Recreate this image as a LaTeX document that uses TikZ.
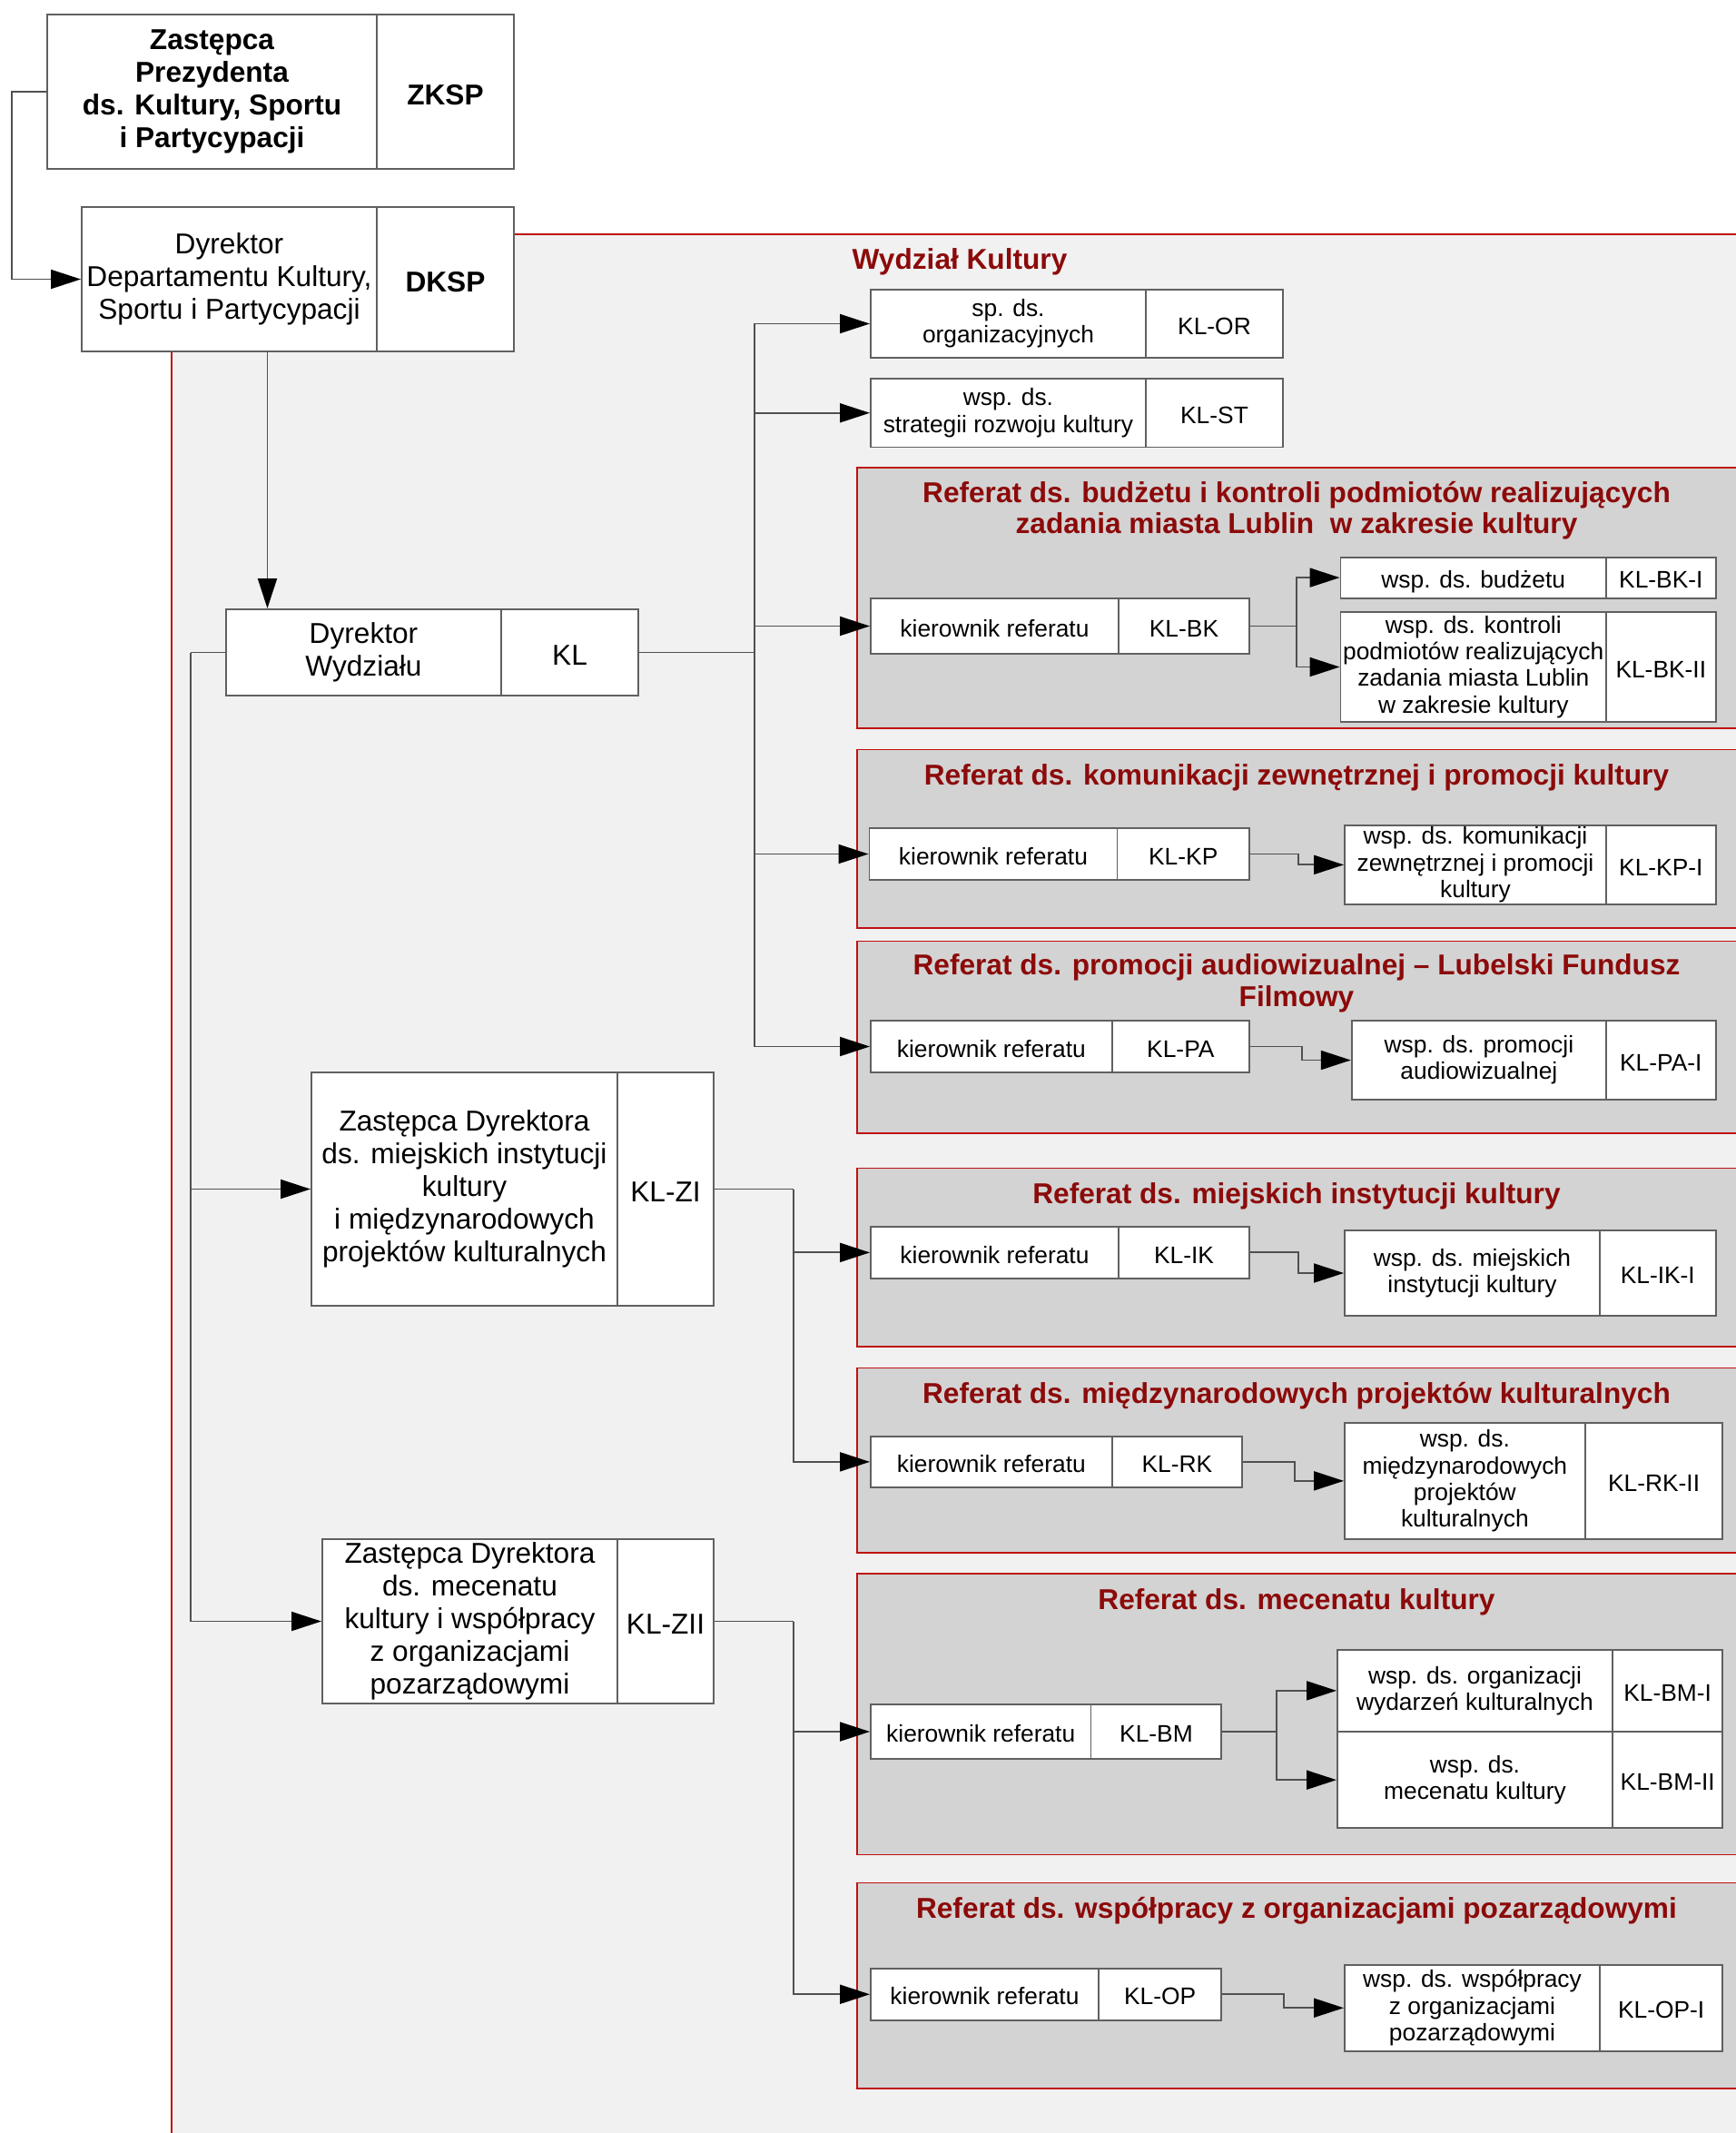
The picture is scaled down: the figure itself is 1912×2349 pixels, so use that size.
\documentclass[tikz,border=0pt]{standalone}
\usepackage{fontspec}
\setmainfont{Liberation Sans}
\usetikzlibrary{arrows.meta, calc}
\definecolor{linegray}{HTML}{505050}
\definecolor{boxgray}{HTML}{606060}
\definecolor{outerfill}{HTML}{F1F1F1}
\definecolor{innerfill}{HTML}{D3D3D3}
\definecolor{framered}{HTML}{C01010}
\definecolor{titlered}{HTML}{8C0A0A}
\newcommand{\linestrut}{\rule[-0.212em]{0pt}{1.117em}}
\newcommand{\topstrut}{\rule{0pt}{1.1em}}
\tikzset{
  cell/.style={draw=boxgray, fill=white, line width=0.55pt, inner sep=0pt, align=center,
    execute at begin node=\topstrut, execute at end node=\linestrut},
  bigcell/.style={cell, font=\fontsize{9}{10.2}\selectfont},
  boldcell/.style={cell, font=\fontsize{9}{10.2}\selectfont\bfseries},
  smallcell/.style={cell, font=\fontsize{7.5}{8.3}\selectfont},
  link/.style={draw=linegray, line width=0.55pt},
  arr/.style={link, -{Triangle[length=3.3mm,width=2.1mm,color=black]}},
  refbox/.style={fill=innerfill, draw=framered, line width=0.4pt},
  reftitle/.style={text=titlered, inner sep=0pt, font=\fontsize{9}{9.8}\selectfont\bfseries, align=center,
    execute at begin node=\linestrut, execute at end node=\linestrut}
}
% style, name, x1, y1, x of divider, x2, y2, text, code
\newcommand{\cell}[9]{%
  \node[#1, minimum width={(#5-#3)*0.1mm}, minimum height={(#7-#4)*0.1mm}] (#2) at ({(#3+#5)/2},{(#4+#7)/2}) {#8};
  \node[#1, minimum width={(#6-#5)*0.1mm}, minimum height={(#7-#4)*0.1mm}] (#2c) at ({(#5+#6)/2},{(#4+#7)/2}) {#9};}

\begin{document}
\begin{tikzpicture}[x=0.1mm, y=-0.1mm]
\useasboundingbox (0,0) rectangle (1912,2349);
\fill[white] (0,0) rectangle (1912,2349);

\draw[fill=outerfill, draw=framered, line width=0.4pt] (189,258) rectangle (1920,2360);
\node[reftitle, anchor=west] (wk) at (938,286) {Wydział Kultury};

\foreach \a/\b in {515/802, 825.7/1022, 1036.7/1248, 1286.7/1483, 1506.7/1710, 1733/2042.7, 2073.3/2300}
  \draw[refbox] (944,\a) rectangle (1920,\b);

\node[reftitle] (t1) at (1428,562) {Referat ds. budżetu i kontroli podmiotów realizujących\\zadania miasta Lublin \ w zakresie kultury};
\node[reftitle] (t2) at (1428,854) {Referat ds. komunikacji zewnętrznej i promocji kultury};
\node[reftitle] (t3) at (1428,1083) {Referat ds. promocji audiowizualnej – Lubelski Fundusz\\Filmowy};
\node[reftitle] (t4) at (1428,1315) {Referat ds. miejskich instytucji kultury};
\node[reftitle] (t5) at (1428,1535) {Referat ds. międzynarodowych projektów kulturalnych};
\node[reftitle] (t6) at (1428,1762) {Referat ds. mecenatu kultury};
\node[reftitle] (t7) at (1428,2101.5) {Referat ds. współpracy z organizacjami pozarządowymi};

\cell{boldcell}{zksp}{52}{16}{415}{566}{186}{Zastępca\\Prezydenta\\ds. Kultury, Sportu\\i Partycypacji}{ZKSP}
\cell{bigcell}{dksp}{90}{228}{415}{566}{387}{Dyrektor\\Departamentu Kultury,\\Sportu i Partycypacji}{\textbf{DKSP}}
\cell{bigcell}{kl}{249}{671}{552}{703}{766}{Dyrektor\\Wydziału}{KL}
\cell{bigcell}{zi}{343}{1181}{680}{786}{1438}{Zastępca Dyrektora\\ds. miejskich instytucji\\kultury\\i międzynarodowych\\projektów kulturalnych}{KL-ZI}
\cell{bigcell}{zii}{355}{1695}{680}{786}{1876}{Zastępca Dyrektora\\ds. mecenatu\\kultury i współpracy\\z organizacjami\\pozarządowymi}{KL-ZII}

\cell{smallcell}{kor}{959}{319}{1262}{1413}{394}{sp. ds.\\organizacyjnych}{KL-OR}
\cell{smallcell}{kst}{959}{417}{1262}{1413}{492.5}{wsp. ds.\\strategii rozwoju kultury}{KL-ST}

\cell{smallcell}{kbk}{959}{659}{1232}{1376}{720}{kierownik referatu}{KL-BK}
\cell{smallcell}{wbka}{1476.5}{613.6}{1769}{1889.6}{658.6}{wsp. ds. budżetu}{KL-BK-I}
\cell{smallcell}{wbkb}{1476.5}{674}{1769}{1889.6}{795}{wsp. ds. kontroli\\podmiotów realizujących\\zadania miasta Lublin\\w zakresie kultury}{KL-BK-II}

\cell{smallcell}{kkp}{957.5}{912}{1230.5}{1376}{969}{kierownik referatu}{KL-KP}
\cell{smallcell}{wkp}{1481}{908.7}{1769}{1889.6}{996}{wsp. ds. komunikacji\\zewnętrznej i promocji\\kultury}{KL-KP-I}

\cell{smallcell}{kpa}{959}{1124}{1224.7}{1376}{1181}{kierownik referatu}{KL-PA}
\cell{smallcell}{wpa}{1488.8}{1124}{1769}{1889.6}{1211}{wsp. ds. promocji\\audiowizualnej}{KL-PA-I}

\cell{smallcell}{kik}{959}{1351}{1232}{1376}{1407.7}{kierownik referatu}{KL-IK}
\cell{smallcell}{wik}{1481}{1355}{1762}{1889.6}{1449}{wsp. ds. miejskich\\instytucji kultury}{KL-IK-I}

\cell{smallcell}{krk}{959}{1581.7}{1224.7}{1368}{1638}{kierownik referatu}{KL-RK}
\cell{smallcell}{wrk}{1481}{1566.7}{1745.7}{1897.4}{1695}{wsp. ds.\\międzynarodowych\\projektów\\kulturalnych}{KL-RK-II}

\cell{smallcell}{kbm}{959}{1877}{1201.5}{1345.4}{1937}{kierownik referatu}{KL-BM}
\cell{smallcell}{wbma}{1473}{1816.7}{1776}{1897.4}{1907}{wsp. ds. organizacji\\wydarzeń kulturalnych}{KL-BM-I}
\cell{smallcell}{wbmb}{1473}{1907}{1776}{1897.4}{2013.3}{wsp. ds.\\mecenatu kultury}{KL-BM-II}

\cell{smallcell}{kop}{959}{2167.7}{1210}{1345.4}{2224.8}{kierownik referatu}{KL-OP}
\cell{smallcell}{wop}{1481}{2163.6}{1762}{1897.4}{2258.8}{wsp. ds. współpracy\\z organizacjami\\pozarządowymi}{KL-OP-I}

\draw[arr] (zksp.west) -- ++(-3.85mm,0) |- (dksp.west);
\draw[arr] ([xshift=4.2mm]dksp.south) -- ([xshift=4.2mm]dksp.south |- kl.north);

\draw[link] (klc.east) -- ++(12.7mm,0) coordinate (busR);
\foreach \n in {kor,kst,kbk,kkp,kpa}
  \draw[arr] (busR) |- (\n.west);
\draw[link] (kl.west) -- ++(-3.84mm,0) coordinate (busL);
\foreach \n in {zi,zii}
  \draw[arr] (busL) |- (\n.west);
\draw[link] (zic.east) -- ++(8.7mm,0) coordinate (busZI);
\foreach \n in {kik,krk}
  \draw[arr] (busZI) |- (\n.west);
\draw[link] (ziic.east) -- ++(8.7mm,0) coordinate (busZII);
\foreach \n in {kbm,kop}
  \draw[arr] (busZII) |- (\n.west);

\draw[link] (kbkc.east) -- ++(5.1mm,0) coordinate (brBK);
\draw[arr] (brBK) |- (wbka.west);
\draw[arr] (brBK) |- (wbkb.west);
\draw[link] (kbmc.east) -- ++(6.0mm,0) coordinate (brBM);
\draw[arr] (brBM) |- (wbma.west);
\draw[arr] (brBM) |- (wbmb.west);
\draw[arr] (kkpc.east) -- ++(5.3mm,0) |- (wkp.west);
\draw[arr] (kpac.east) -- ++(5.7mm,0) |- (wpa.west);
\draw[arr] (kikc.east) -- ++(5.3mm,0) |- (wik.west);
\draw[arr] (krkc.east) -- ++(5.7mm,0) |- (wrk.west);
\draw[arr] (kopc.east) -- ++(6.8mm,0) |- (wop.west);
\end{tikzpicture}
\end{document}
